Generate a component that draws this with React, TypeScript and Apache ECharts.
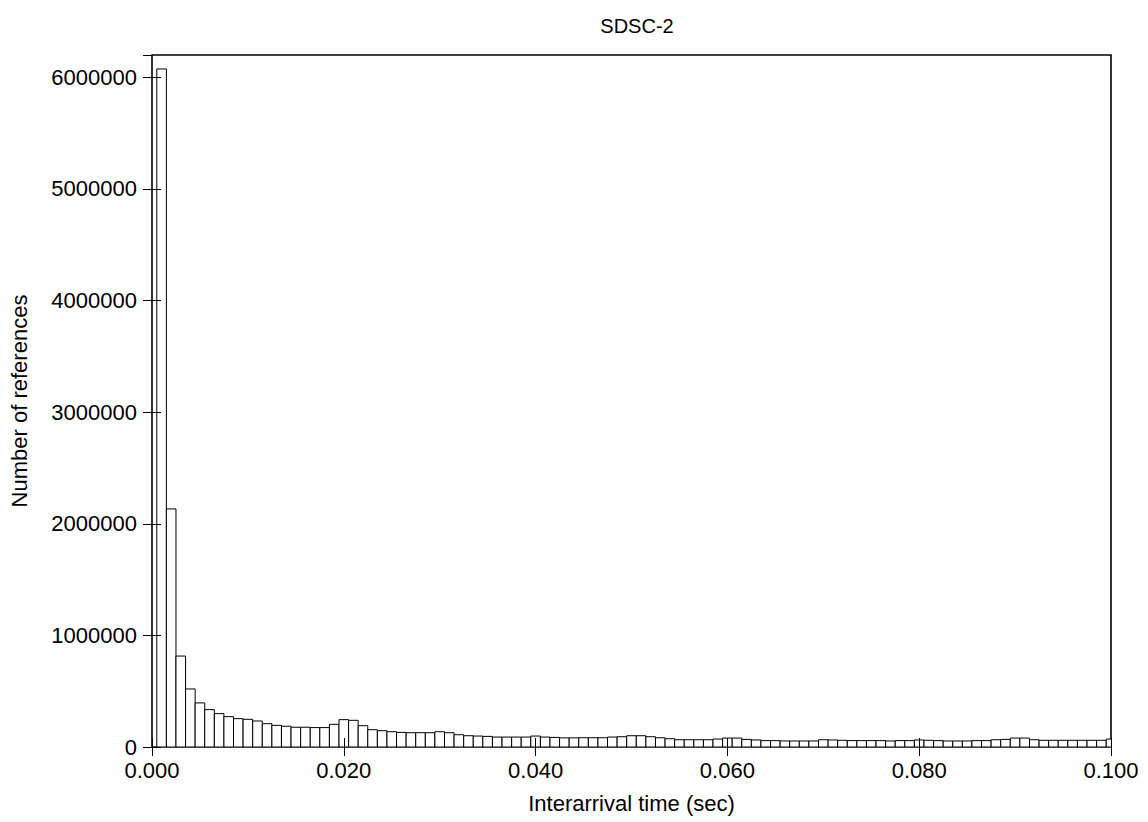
import React, { useEffect, useRef } from "react";
import * as echarts from "echarts";

const TITLE = "SDSC-2";
const X_NAME = "Interarrival time (sec)";
const Y_NAME = "Number of references";

const BIN_WIDTH = 0.001;
const binCenters = [
  0.001, 0.002, 0.003, 0.004, 0.005, 0.006, 0.007, 0.008, 0.009, 0.01,
  0.011, 0.012, 0.013, 0.014, 0.015, 0.016, 0.017, 0.018, 0.019, 0.02,
  0.021, 0.022, 0.023, 0.024, 0.025, 0.026, 0.027, 0.028, 0.029, 0.03,
  0.031, 0.032, 0.033, 0.034, 0.035, 0.036, 0.037, 0.038, 0.039, 0.04,
  0.041, 0.042, 0.043, 0.044, 0.045, 0.046, 0.047, 0.048, 0.049, 0.05,
  0.051, 0.052, 0.053, 0.054, 0.055, 0.056, 0.057, 0.058, 0.059, 0.06,
  0.061, 0.062, 0.063, 0.064, 0.065, 0.066, 0.067, 0.068, 0.069, 0.07,
  0.071, 0.072, 0.073, 0.074, 0.075, 0.076, 0.077, 0.078, 0.079, 0.08,
  0.081, 0.082, 0.083, 0.084, 0.085, 0.086, 0.087, 0.088, 0.089, 0.09,
  0.091, 0.092, 0.093, 0.094, 0.095, 0.096, 0.097, 0.098, 0.099, 0.1,
];
const counts = [
  6075000, 2133000, 815000, 520000, 395000, 335000, 299000, 272000, 254000, 248000,
  233000, 209000, 194000, 186000, 177000, 177000, 174000, 174000, 203000, 245000,
  239000, 191000, 155000, 146000, 137000, 131000, 128000, 128000, 128000, 137000,
  128000, 110000, 101000, 98000, 95000, 89000, 89000, 89000, 89000, 98000,
  89000, 86000, 82000, 82000, 83000, 83000, 83000, 89000, 92000, 101000,
  101000, 92000, 83000, 74000, 65000, 65000, 65000, 65000, 71000, 80000,
  80000, 68000, 63000, 57000, 57000, 54000, 54000, 54000, 54000, 65000,
  63000, 60000, 57000, 57000, 57000, 57000, 54000, 57000, 57000, 63000,
  60000, 57000, 54000, 54000, 54000, 57000, 57000, 65000, 68000, 80000,
  80000, 65000, 60000, 60000, 60000, 60000, 60000, 60000, 60000, 71000,
];
const xTickLabels = ["0.000", "0.020", "0.040", "0.060", "0.080", "0.100"];

const FONT = "Liberation Sans, Arial, sans-serif";
const FS = 22;

export default function App() {
  const ref = useRef<HTMLDivElement>(null);
  useEffect(() => {
    document.body.style.margin = "0";
    const chart = echarts.init(ref.current!, null, { renderer: "svg" });
    const data = binCenters.map((c, i) => [c - BIN_WIDTH / 2, c + BIN_WIDTH / 2, counts[i]]);
    const tickCommon = { show: true, inside: true, length: 9, lineStyle: { color: "#000", width: 1 } };
    chart.setOption({
      animation: false,
      backgroundColor: "#fff",
      title: {
        text: TITLE,
        left: 632,
        textAlign: "center",
        top: 11,
        textStyle: { fontFamily: FONT, fontSize: 20, fontWeight: "normal", color: "#000" },
      },
      grid: {
        left: 152,
        top: 55,
        width: 959,
        height: 692,
        show: true,
        borderColor: "#000",
        borderWidth: 1.6,
        backgroundColor: "transparent",
      },
      xAxis: [
        {
          type: "value",
          min: 0,
          max: 0.1,
          interval: 0.02,
          name: X_NAME,
          nameLocation: "middle",
          nameGap: 45,
          nameTextStyle: { fontFamily: FONT, fontSize: FS, color: "#000" },
          axisLine: { show: false },
          axisTick: tickCommon,
          splitLine: { show: false },
          axisLabel: {
            fontFamily: FONT,
            fontSize: FS,
            color: "#000",
            margin: 12,
            formatter: (v: number) => xTickLabels[Math.round(v / 0.02)] ?? "",
          },
          z: 10,
        },
        {
          type: "value",
          position: "top",
          min: 0,
          max: 0.1,
          interval: 0.02,
          axisLine: { show: false },
          axisTick: tickCommon,
          axisLabel: { show: false },
          splitLine: { show: false },
          z: 10,
        },
      ],
      yAxis: [
        {
          type: "value",
          min: 0,
          max: 6200000,
          interval: 1000000,
          name: Y_NAME,
          nameLocation: "middle",
          nameGap: 122,
          nameTextStyle: { fontFamily: FONT, fontSize: FS, color: "#000" },
          axisLine: { show: false },
          axisTick: tickCommon,
          splitLine: { show: false },
          axisLabel: {
            fontFamily: FONT,
            fontSize: FS,
            color: "#000",
            margin: 15,
            showMaxLabel: false,
            formatter: (v: number) => (v % 1000000 === 0 ? String(v) : ""),
          },
          z: 10,
        },
        {
          type: "value",
          position: "right",
          min: 0,
          max: 6200000,
          interval: 1000000,
          axisLine: { show: false },
          axisTick: tickCommon,
          axisLabel: { show: false },
          splitLine: { show: false },
          z: 10,
        },
      ],
      series: [
        {
          type: "custom",
          clip: true,
          xAxisIndex: 0,
          yAxisIndex: 0,
          data,
          renderItem: (params: any, api: any) => {
            const p0 = api.coord([api.value(0), 0]);
            const p1 = api.coord([api.value(1), api.value(2)]);
            return {
              type: "rect",
              shape: { x: p0[0], y: p1[1], width: p1[0] - p0[0], height: p0[1] - p1[1] },
              style: { fill: "#fff", stroke: "#000", lineWidth: 1 },
            };
          },
          z: 2,
        },
      ],
    });
    return () => chart.dispose();
  }, []);
  return <div ref={ref} style={{ width: 1148, height: 822 }} />;
}
